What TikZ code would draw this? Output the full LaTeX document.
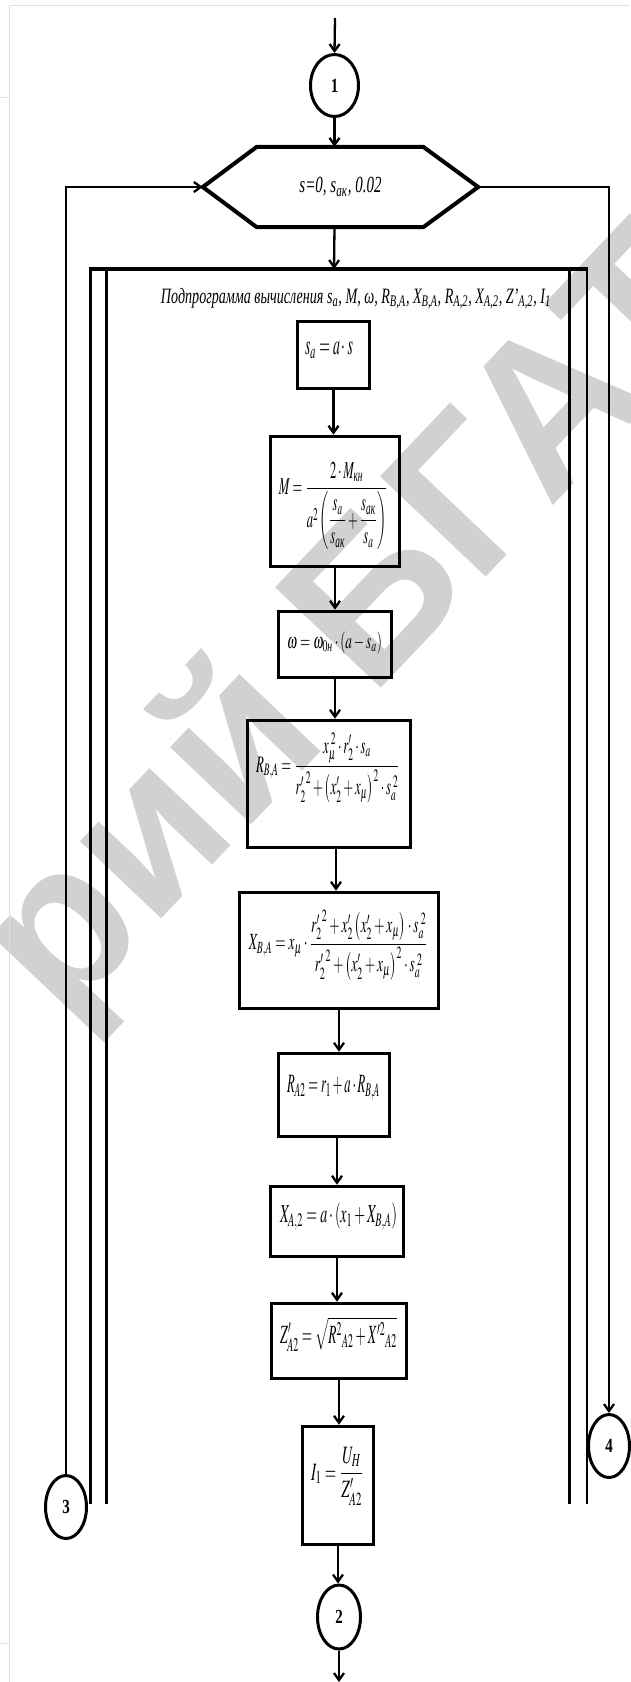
\documentclass[tikz,border=0pt]{standalone}
\usepackage{amsmath}
\usepackage{mathptmx}
\usepackage[no-math]{fontspec}
\setmainfont{Liberation Serif}
\newfontfamily\wmfont{Liberation Sans}
\usetikzlibrary{shapes.geometric,arrows.meta,calc}
\newcommand{\fitbox}[3]{\resizebox*{#1pt}{#2pt}{#3}}
\tikzset{
  box/.style={draw, line width=3.6pt, inner sep=0pt},
  arr/.style={line width=2.3pt, -{Straight Barb[length=7pt,width=10pt]}},
  frm/.style={line width=2.6pt},
  conn/.style={draw, ellipse, line width=3pt, inner sep=0pt, font=\bfseries\fontsize{20}{20}\selectfont},
  lbl/.style={inner sep=0pt},
  hexs/.style={line width=4pt, line join=miter},
  artifact/.style={draw=black!12, line width=1pt}
}
\begin{document}
\begin{tikzpicture}[x=1pt,y=-1pt]
\useasboundingbox (0,0) rectangle (630,1682);
% watermark
\begin{scope}
\clip (0,0) rectangle (630,1682);
\node[anchor=base west, rotate=46.5, inner sep=0pt, text=black!18,
      font=\wmfont\bfseries\fontsize{212}{212}\selectfont] (wm) at (62,1024) {рий БГАТУ};
\end{scope}
% page artifacts
\draw[artifact] (9.5,5) -- (9.5,1682);
\draw[artifact] (9.5,5) -- (630,5);
\draw[artifact] (0,97) -- (9.5,97);
\draw[artifact] (0,1643) -- (9.5,1643);

% connectors (circles)
\node[conn, minimum width=48pt, minimum height=62pt] (c1) at (334.5,85.5) {\scalebox{0.75}[1]{1}};
\node[conn, minimum width=43pt, minimum height=64pt] (c2) at (339,1617) {\scalebox{0.75}[1]{2}};
\node[conn, minimum width=41pt, minimum height=63pt] (c3) at (66,1507) {\scalebox{0.75}[1]{3}};
\node[conn, minimum width=41pt, minimum height=63pt] (c4) at (609,1446) {\scalebox{0.75}[1]{4}};

% loop hexagon
\node[lbl, minimum width=275pt, minimum height=80pt] (hex) at (340.5,187)
  {\fitbox{82}{19}{\itshape s=0, s\textsubscript{ак}, 0.02}};
\draw[hexs] (hex.west) -- ([xshift=54pt]hex.north west) -- ([xshift=-55pt]hex.north east)
  -- (hex.east) -- ([xshift=-55pt]hex.south east) -- ([xshift=54pt]hex.south west) -- cycle;

% subroutine frame
\coordinate (ftop) at (334,269);
\draw[frm] (90.5,1504) -- (90.5,269);
\draw[frm] (106.5,1504) -- (106.5,269);
\draw[frm] (569.5,1504) -- (569.5,269);
\draw[frm] (587,1504) -- (587,269);
\draw[line width=4pt] (89.2,269) -- (588.3,269);
\node[lbl] (title) at (356,298.5)
  {\fitbox{390}{21}{\itshape Подпрограмма вычисления s\textsubscript{a}, M, ω, R\textsubscript{B,A}, X\textsubscript{B,A}, R\textsubscript{A,2}, X\textsubscript{A,2}, Z'\textsubscript{A,2}, I\textsubscript{1}}};

% process boxes
\node[box, minimum width=72pt,  minimum height=67pt]  (sa)  at (333.5,355) {};
\node[box, minimum width=129pt, minimum height=130pt] (M)   at (335,501.5) {};
\node[box, minimum width=113pt, minimum height=66pt]  (om)  at (335,644.5) {};
\node[box, minimum width=163pt, minimum height=127pt] (R)   at (329,784) {};
\node[box, minimum width=199pt, minimum height=116pt] (X)   at (339,950.5) {};
\node[box, minimum width=111pt, minimum height=83pt]  (RA)  at (334,1095) {};
\node[box, minimum width=133pt, minimum height=70pt]  (XA)  at (337,1221.5) {};
\node[box, minimum width=135pt, minimum height=75pt]  (Z)   at (339,1341) {};
\node[box, minimum width=71pt,  minimum height=118pt] (I)   at (338,1485.5) {};

% formulas
\node[lbl] (saT) at (329,350) {\fitbox{48}{17}{$s_a=a\cdot s$}};
\node[lbl] (MT) at (333.5,506) {\fitbox{109}{88}{$M=\dfrac{2\cdot M_{\textit{кн}}}{a^2\left(\dfrac{s_a}{s_{\textit{ак}}}+\dfrac{s_{\textit{ак}}}{s_a}\right)}$}};
\node[lbl] (omT) at (334.5,642.5) {\fitbox{95}{22}{$\omega=\omega_{0\textit{н}}\cdot\left(a-s_a\right)$}};
\node[lbl] (RT) at (328,768) {\fitbox{144}{70}{$R_{B,A}=\dfrac{x_\mu^{\;2}\cdot r'_2\cdot s_a}{{r'_2}^{2}+\left(x'_2+x_\mu\right)^2\cdot s_a^{\;2}}$}};
\node[lbl] (XT) at (338.5,945) {\fitbox{179}{70}{$X_{B,A}=x_\mu\cdot\dfrac{{r'_2}^{2}+x'_2\left(x'_2+x_\mu\right)\cdot s_a^{\;2}}{{r'_2}^{2}+\left(x'_2+x_\mu\right)^2\cdot s_a^{\;2}}$}};
\node[lbl] (RAT) at (333.5,1087.5) {\fitbox{93}{25}{$R_{A2}=r_1+a\cdot R_{B,A}$}};
\node[lbl] (XAT) at (338.5,1216.5) {\fitbox{117}{27}{$X_{A,2}=a\cdot\left(x_1+X_{B,A}\right)$}};
\node[lbl] (ZT) at (338.5,1334) {\fitbox{117}{34}{$Z'_{A2}=\sqrt{R^2{}_{A2}+X'^2{}_{A2}}$}};
\node[lbl] (IT) at (337.5,1476) {\fitbox{53}{58}{$I_1=\dfrac{U_H}{Z'_{A2}}$}};

% flow arrows
\coordinate (in) at (335,18);
\coordinate (out) at (339,1682);
\draw[arr] (in) -- (c1.north);
\draw[arr] (c1.south) -- (c1.south |- hex.north);
\draw[arr] (c1.south |- hex.south) -- (ftop);
\draw[arr] (c3.north) |- (hex.west);
\draw[arr] (hex.east) -| (c4.north);
\draw[arr] (sa.south) -- (sa.south |- M.north);
\draw[arr] (M.south) -- (M.south |- om.north);
\draw[arr] (om.south) -- (om.south |- R.north);
\draw[arr] ([xshift=7pt]R.south) -- ([xshift=7pt]R.south |- X.north);
\draw[arr] (X.south) -- (X.south |- RA.north);
\draw[arr] ([xshift=3pt]RA.south) -- ([xshift=3pt]RA.south |- XA.north);
\draw[arr] (XA.south) -- (XA.south |- Z.north);
\draw[arr] (Z.south) -- (Z.south |- I.north);
\draw[arr] (I.south) -- (I.south |- c2.north);
\draw[arr] (c2.south) -- (out);
\end{tikzpicture}
\end{document}
